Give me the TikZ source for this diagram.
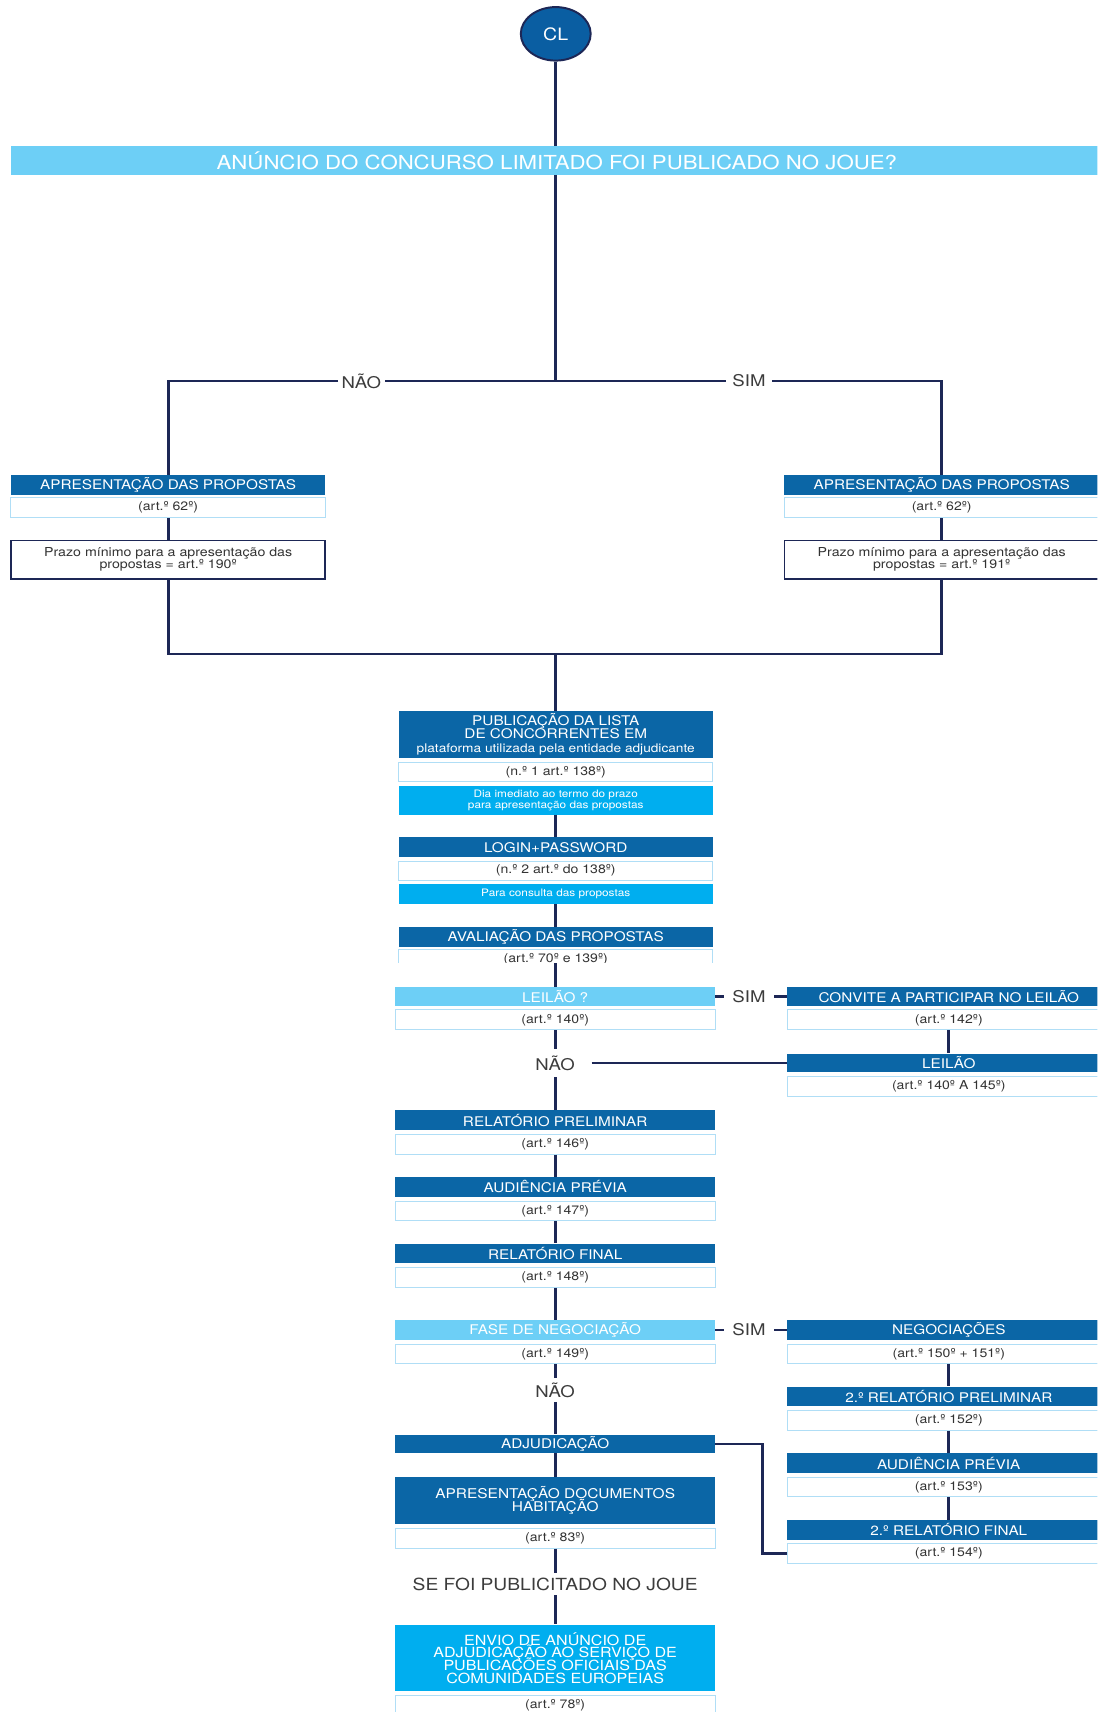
\documentclass[tikz,border=0pt]{standalone}
\usepackage{fontspec}
\setmainfont{TeX Gyre Heros}[FakeStretch=1.15]
\usetikzlibrary{shapes.geometric}
\definecolor{dblue}{HTML}{0B66A6}
\definecolor{cldark}{HTML}{0A5EA2}
\definecolor{lblue}{HTML}{6DCFF6}
\definecolor{bblue}{HTML}{00AEEF}
\definecolor{navy}{HTML}{1D2756}
\definecolor{abord}{HTML}{B0DEF6}
\definecolor{atext}{HTML}{333333}
\definecolor{lab}{HTML}{3C3C3C}
\newcommand\fsz[2]{\fontsize{#1}{#2}\selectfont\lineskiplimit=-50pt\lineskip=0pt\relax}
\tikzset{
  bx/.style={inner sep=0pt, align=center, text=white},
  dk/.style={bx, fill=dblue, minimum height=18, font=\fsz{12.2}{11}},
  lq/.style={bx, fill=lblue, minimum height=17, font=\fsz{12.2}{11}},
  bn/.style={bx, fill=bblue},
  art/.style={inner sep=0pt, fill=white, draw=abord, line width=0.9, minimum height=18, text=atext, font=\fsz{11.2}{12}},
  prz/.style={inner sep=0pt, fill=white, draw=navy, line width=1.6, minimum height=35, align=center, text=black!80, font=\fsz{11.3}{11}},
  wL/.style={minimum width=288},
  wM/.style={minimum width=288},
  wB/.style={minimum width=293},
  wR/.style={minimum width=296},
  lbl/.style={text=lab, font=\fsz{14.8}{15}, inner ysep=5pt, inner xsep=3pt},
  conn/.style={draw=navy, line width=2.5},
}
\begin{document}
\begin{tikzpicture}[x=1pt,y=-1pt]
\useasboundingbox (0,0) rectangle (1005,1568);
\clip (0,0) rectangle (1005,1568);
\fill[white] (0,0) rectangle (1005,1568);

% ---- top ----
\node[ellipse, fill=cldark, draw=navy, line width=1.8, minimum width=64, minimum height=49, inner sep=0pt, text=white, font=\fsz{15.6}{16}] (cl) at (509,31) {CL};
\node[lq, minimum width=1000, minimum height=26, font=\fsz{17.7}{18}] (q1) at (510,147) {ANÚNCIO DO CONCURSO LIMITADO FOI PUBLICADO NO JOUE?};
\coordinate (j1) at (509,349);
\node[lbl] (nao1) at (331,349) {NÃO};
\node[lbl, inner xsep=6pt] (sim1) at (686,349) {SIM};

\node[dk, wL] (apL) at (154,444) {APRESENTAÇÃO DAS PROPOSTAS};
\node[art, wL] (apLart) at (154,465) {(art.º 62º)};
\node[prz, wL] (prL) at (154,512.5) {Prazo mínimo para a apresentação das\\propostas = art.º 190º};

\node[dk, wL] (apR) at (862.5,444) {APRESENTAÇÃO DAS PROPOSTAS};
\node[art, wL] (apRart) at (862.5,465) {(art.º 62º)};
\node[prz, wL] (prR) at (862.5,512.5) {Prazo mínimo para a apresentação das\\propostas = art.º 191º};
\coordinate (j2) at (509,599);

% ---- middle upper ----
\node[dk, wM, minimum height=43, font=\fsz{12.2}{12}] (pub) at (509,672.5) {PUBLICAÇÃO DA LISTA\\DE CONCORRENTES EM\\{\fsz{10.9}{12}plataforma utilizada pela entidade adjudicante}};
\node[art, wM] (pubart) at (509,707) {(n.º 1 art.º 138º)};
\node[bn, wM, minimum height=26, font=\fsz{9.4}{9.5}] (pubnote) at (509,733) {Dia imediato ao termo do prazo\\para apresentação das propostas};
\node[dk, wM] (login) at (509,776) {LOGIN+PASSWORD};
\node[art, wM, minimum height=17] (loginart) at (509,797.5) {(n.º 2 art.º do 138º)};
\node[bn, wM, minimum height=18, font=\fsz{9.4}{9.5}] (loginnote) at (509,819) {Para consulta das propostas};
\node[dk, wM] (aval) at (509,858) {AVALIAÇÃO DAS PROPOSTAS};
\begin{scope}
\clip (300,860) rectangle (720,881.5);
\node[art, wM] (avalart) at (509,879) {(art.º 70º e 139º)};
\end{scope}
\coordinate (cut) at (508.5,882);

% ---- lower ----
\node[lq, wB] (leilaoq) at (508.5,912.5) {LEILÃO ?};
\node[art, wB] (leilaoqart) at (508.5,934) {(art.º 140º)};
\node[lbl, inner xsep=8pt] (sim2) at (686,912.5) {SIM};
\node[dk, wR, minimum height=17] (convite) at (869,912.5) {CONVITE A PARTICIPAR NO LEILÃO};
\node[art, wR] (conviteart) at (869,934) {(art.º 142º)};
\node[dk, wR, minimum height=17] (leilao) at (869,973.5) {LEILÃO};
\node[art, wR] (leilaoart) at (869,995) {(art.º 140º A 145º)};
\node[lbl, inner xsep=15pt, inner ysep=6pt] (nao2) at (508.5,973.5) {NÃO};

\node[dk, wB] (relprel) at (508.5,1026) {RELATÓRIO PRELIMINAR};
\node[art, wB] (relprelart) at (508.5,1048) {(art.º 146º)};
\node[dk, wB] (audp) at (508.5,1087) {AUDIÊNCIA PRÉVIA};
\node[art, wB] (audpart) at (508.5,1109) {(art.º 147º)};
\node[dk, wB] (relfin) at (508.5,1148) {RELATÓRIO FINAL};
\node[art, wB] (relfinart) at (508.5,1170) {(art.º 148º)};
\node[lq, wB, minimum height=18] (faseneg) at (508.5,1218) {FASE DE NEGOCIAÇÃO};
\node[art, wB] (fasenegart) at (508.5,1240) {(art.º 149º)};
\node[lbl, inner xsep=8pt] (sim3) at (686,1218) {SIM};

\node[dk, wR, minimum height=19] (neg) at (869,1218) {NEGOCIAÇÕES};
\node[art, wR] (negart) at (869,1240) {(art.º 150º + 151º)};
\node[dk, wR] (rel2p) at (869,1279) {2.º RELATÓRIO PRELIMINAR};
\node[art, wR] (rel2part) at (869,1301) {(art.º 152º)};
\node[dk, wR] (aud2) at (869,1340) {AUDIÊNCIA PRÉVIA};
\node[art, wR] (aud2art) at (869,1362) {(art.º 153º)};
\node[dk, wR] (rel2f) at (869,1401) {2.º RELATÓRIO FINAL};
\node[art, wR] (rel2fart) at (869,1423) {(art.º 154º)};

\node[lbl, inner ysep=4pt] (nao3) at (508.5,1273) {NÃO};
\node[dk, wB, minimum height=17] (adj) at (508.5,1322.5) {ADJUDICAÇÃO};
\node[dk, wB, minimum height=43, font=\fsz{12.3}{11.5}] (docs) at (508.5,1374.5) {APRESENTAÇÃO DOCUMENTOS\\HABITAÇÃO};
\node[art, wB] (docsart) at (508.5,1409) {(art.º 83º)};
\node[lbl, font=\fsz{15.3}{15}, inner ysep=4pt] (sejoue) at (508.5,1451) {SE FOI PUBLICITADO NO JOUE};
\node[bn, wB, minimum height=61, font=\fsz{12.8}{11.7}] (envio) at (508.5,1518.5) {ENVIO DE ANÚNCIO DE\\ADJUDICAÇÃO AO SERVIÇO DE\\PUBLICAÇÕES OFICIAIS DAS\\COMUNIDADES EUROPEIAS};
\node[art, wB] (envioart) at (508.5,1562) {(art.º 78º)};

% ---- connectors ----
\draw[conn] (cl.south) -- (cl.south |- q1.north);
\draw[conn] (cl.south |- q1.south) -- (j1);
\draw[conn] (j1) -- (nao1.east);
\draw[conn] (nao1.west) -| (apL.north);
\draw[conn] (j1) -- (sim1.west);
\draw[conn] (sim1.east) -| (apR.north);
\draw[conn] (apLart.south) -- (prL.north);
\draw[conn] (apRart.south) -- (prR.north);
\draw[conn] (prL.south) |- (j2);
\draw[conn] (prR.south) |- (j2);
\draw[conn] (j2) -- (pub.north);
\draw[conn] (pubnote.south) -- (login.north);
\draw[conn] (loginnote.south) -- (aval.north);
\draw[conn] (cut) -- (leilaoq.north);
\draw[conn] (leilaoq.east) -- (sim2.west);
\draw[conn] (sim2.east) -- (convite.west);
\draw[conn] (conviteart.south) -- (leilao.north);
\draw[conn] (leilaoqart.south) -- (nao2.north);
\draw[conn] (nao2.east) -- (leilao.west);
\draw[conn] (nao2.south) -- (relprel.north);
\draw[conn] (relprelart.south) -- (audp.north);
\draw[conn] (audpart.south) -- (relfin.north);
\draw[conn] (relfinart.south) -- (faseneg.north);
\draw[conn] (faseneg.east) -- (sim3.west);
\draw[conn] (sim3.east) -- (neg.west);
\draw[conn] (negart.south) -- (rel2p.north);
\draw[conn] (rel2part.south) -- (aud2.north);
\draw[conn] (aud2art.south) -- (rel2f.north);
\draw[conn] (fasenegart.south) -- (nao3.north);
\draw[conn] (nao3.south) -- (adj.north);
\draw[conn] (adj.east) -- ++(43,0) |- (rel2fart.west);
\draw[conn] (adj.south) -- (docs.north);
\draw[conn] (docsart.south) -- (sejoue.north);
\draw[conn] (sejoue.south) -- (envio.north);
\end{tikzpicture}
\end{document}
